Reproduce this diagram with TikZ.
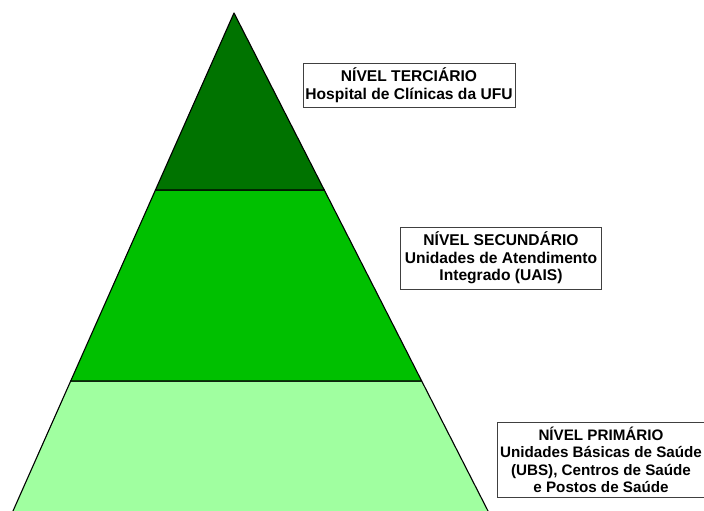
\documentclass[tikz,border=0pt]{standalone}
\usepackage{fontspec}
\setmainfont{Liberation Sans}
\definecolor{tgreen}{RGB}{0,115,0}
\definecolor{sgreen}{RGB}{0,192,0}
\definecolor{pgreen}{RGB}{160,255,160}
\tikzset{
  layer/.style={draw=black, line width=1.1pt, line join=round},
  lbox/.style={draw=black!75, line width=0.9pt, fill=white, inner sep=0pt},
  ltext/.style={align=center, font=\fontsize{15.6}{17.5}\selectfont\bfseries, inner sep=0pt}
}
\begin{document}
\begin{tikzpicture}[x=1pt,y=-1pt]
\useasboundingbox (0,0) rectangle (704,511);
\clip (0,0) rectangle (704,511);
\fill[white] (0,0) rectangle (704,511);
% pyramid
\coordinate (apex) at (234,13);
\coordinate (t1) at (155.45,190);
\coordinate (t2) at (324.28,190);
\coordinate (s1) at (70.69,381);
\coordinate (s2) at (421.69,381);
\coordinate (b1) at (9,520);
\coordinate (b2) at (492.6,520);
\filldraw[layer, fill=pgreen] (s1) -- (s2) -- (b2) -- (b1) -- cycle;
\filldraw[layer, fill=sgreen] (t1) -- (t2) -- (s2) -- (s1) -- cycle;
\filldraw[layer, fill=tgreen] (apex) -- (t2) -- (t1) -- cycle;
% boxes
\node[lbox, minimum width=212pt, minimum height=44pt] (box1) at (409,85) {};
\node[ltext] (txt1) at (409,85) {NÍVEL TERCIÁRIO\\Hospital de Clínicas da UFU};
\node[lbox, minimum width=201pt, minimum height=62pt] (box2) at (500.5,258) {};
\node[ltext] (txt2) at (501,258) {NÍVEL SECUNDÁRIO\\Unidades de Atendimento\\Integrado (UAIS)};
\node[lbox, minimum width=212pt, minimum height=75pt] (box3) at (603,459.5) {};
\node[ltext, font=\fontsize{15.2}{17.5}\selectfont\bfseries] (txt3) at (601,460) {NÍVEL PRIMÁRIO\\Unidades Básicas de Saúde\\(UBS), Centros de Saúde\\e Postos de Saúde};
\end{tikzpicture}
\end{document}
